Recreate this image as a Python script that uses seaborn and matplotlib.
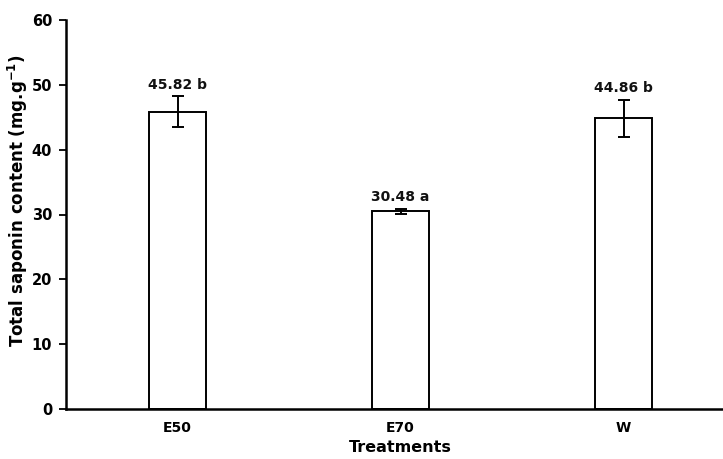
import matplotlib
matplotlib.use("Agg")
import matplotlib.pyplot as plt
import seaborn as sns
import pandas as pd

treatments = ["E50", "E70", "W"]
means = [45.82, 30.48, 44.86]
errors = [2.4, 0.4, 2.85]
letters = ["b", "a", "b"]

sns.set_theme(style="white")
plt.rcParams['font.family'] = ['DejaVu Sans']
plt.rcParams['font.weight'] = 'bold'
plt.rcParams['mathtext.default'] = 'bf'
plt.rcParams['text.color'] = 'black'
plt.rcParams['axes.labelcolor'] = 'black'
plt.rcParams['xtick.color'] = 'black'
plt.rcParams['ytick.color'] = 'black'

df = pd.DataFrame({"Treatments": treatments, "Total": means})

fig = plt.figure(figsize=(7.23, 4.59), dpi=100)
ax = fig.add_axes([66/723, 1-409/459, (735-66)/723, (409-20)/459])

sns.barplot(data=df, x="Treatments", y="Total", ax=ax, color="white",
            edgecolor="black", linewidth=1.4, width=0.26, errorbar=None)
ax.errorbar(range(len(treatments)), means, yerr=errors, fmt="none",
            ecolor="black", elinewidth=1.4, capsize=4, capthick=1.4)

for i, (m, e, l) in enumerate(zip(means, errors, letters)):
    ax.text(i, m + e + 1.2, f"{m:.2f} {l}", ha="center", va="baseline",
            fontsize=10, fontweight="bold", color="#111111")

ax.set_xlim(-0.5, 2.5)
ax.set_ylim(0, 60)
ax.set_yticks(range(0, 61, 10))
ax.tick_params(axis="y", which="both", left=True, length=5, width=1.3,
               labelsize=10.5, colors="black", pad=5)
ax.tick_params(axis="x", bottom=False, labelsize=10, pad=3, colors="black")
for lab in ax.get_xticklabels() + ax.get_yticklabels():
    lab.set_fontweight("bold")

for s in ["top", "right"]:
    ax.spines[s].set_visible(False)
for s in ["left", "bottom"]:
    ax.spines[s].set_color("black")
    ax.spines[s].set_linewidth(1.8)

ax.set_xlabel("Treatments", fontsize=11.5, fontweight="bold", labelpad=3,
              color="black")
ax.set_ylabel("Total saponin content (mg.g$^{-1}$)", fontsize=12,
              fontweight="bold", color="black")
ax.yaxis.set_label_coords(-0.054, 0.535)

fig.savefig("out.png", dpi=100)
